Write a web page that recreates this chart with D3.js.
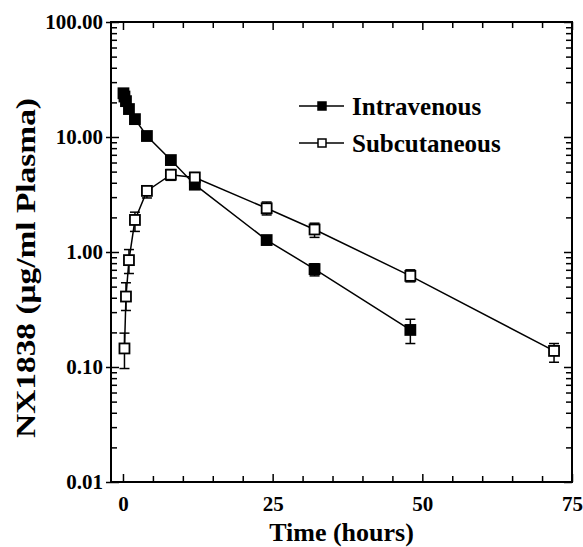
<!DOCTYPE html>
<meta charset="utf-8">
<style>
body { margin: 0; background: #fff; }
text { font-family: "Liberation Serif", "Times New Roman", serif; font-weight: bold; fill: #000; }
.axis path, .axis line { stroke: #000; stroke-width: 1.5px; }
.axis text { font-size: 21px; font-family: "Liberation Serif", "Times New Roman", serif; font-weight: bold; }
.frame { fill: none; stroke: #000; stroke-width: 2px; }
.series { fill: none; stroke: #000; stroke-width: 1.5px; }
.err { stroke: #000; stroke-width: 1.5px; }
</style>
<svg width="583" height="547"></svg>
<script src="https://d3js.org/d3.v7.min.js"></script>
<script>

// Intravenous (filled squares)
var ivTime = [0.083, 0.25, 0.5, 1, 2, 4, 8, 12, 24, 32, 48];
var ivConc = [24, 22.5, 20.5, 17.5, 14.3, 10.2, 6.3, 3.85, 1.27, 0.71, 0.21];
var ivLo   = [24, 22.5, 20.5, 17.5, 14.3, 10.2, 6.3, 3.85, 1.18, 0.62, 0.16];
var ivHi   = [24, 22.5, 20.5, 17.5, 14.3, 10.2, 6.3, 3.85, 1.36, 0.79, 0.26];

// Subcutaneous (open squares)
var scTime = [0.25, 0.5, 1, 2, 4, 8, 12, 24, 32, 48, 72];
var scConc = [0.145, 0.41, 0.85, 1.9, 3.4, 4.7, 4.45, 2.4, 1.57, 0.62, 0.138];
var scLo   = [0.097, 0.31, 0.65, 1.51, 2.95, 4.2, 4.0, 2.1, 1.34, 0.55, 0.11];
var scHi   = [0.197, 0.54, 1.05, 2.22, 3.7, 5.2, 4.9, 2.72, 1.78, 0.70, 0.16];

var xMajor = [0, 25, 50, 75];
var xMinor = [5, 10, 15, 20, 30, 35, 40, 45, 55, 60, 65, 70];
var yMajor = [0.01, 0.1, 1, 10, 100];
var seriesNames = ["Intravenous", "Subcutaneous"];

var svg = d3.select("svg"),
    pLeft = 111, pRight = 572, pTop = 22, pBottom = 482;

var x = d3.scaleLinear().domain([-2, 75]).range([pLeft, pRight]);
var y = d3.scaleLog().domain([0.01, 100]).range([pBottom, pTop]);

var yMinor = y.ticks().filter(function(d) {
  return yMajor.every(function(m) { return Math.abs(m - d) / m > 1e-6; });
});

function build(t, c, lo, hi) {
  return t.map(function(d, i) { return {t: d, c: c[i], lo: lo[i], hi: hi[i]}; });
}
var iv = build(ivTime, ivConc, ivLo, ivHi);
var sc = build(scTime, scConc, scLo, scHi);

function noDomain(g) { g.select(".domain").remove(); }

// axes
svg.append("g").attr("class", "axis")
    .attr("transform", "translate(0," + pBottom + ")")
    .call(d3.axisBottom(x).tickValues(xMajor).tickSize(-8).tickPadding(14)
      .tickFormat(d3.format("d")))
    .call(noDomain);
svg.append("g").attr("class", "axis")
    .attr("transform", "translate(0," + pBottom + ")")
    .call(d3.axisBottom(x).tickValues(xMinor).tickSize(-6).tickFormat(""))
    .call(noDomain);
svg.append("g").attr("class", "axis")
    .attr("transform", "translate(0," + pTop + ")")
    .call(d3.axisTop(x).tickValues(xMajor).tickSize(-8).tickFormat(""))
    .call(noDomain);
svg.append("g").attr("class", "axis")
    .attr("transform", "translate(0," + pTop + ")")
    .call(d3.axisTop(x).tickValues(xMinor).tickSize(-6).tickFormat(""))
    .call(noDomain);

svg.append("g").attr("class", "axis")
    .attr("transform", "translate(" + pLeft + ",0)")
    .call(d3.axisLeft(y).tickValues(yMajor).tickSize(5).tickPadding(3)
      .tickFormat(d3.format(".2f")))
    .call(noDomain);
svg.append("g").attr("class", "axis")
    .attr("transform", "translate(" + pLeft + ",0)")
    .call(d3.axisLeft(y).tickValues(yMajor).tickSize(-8).tickFormat(""))
    .call(noDomain);
svg.append("g").attr("class", "axis")
    .attr("transform", "translate(" + pLeft + ",0)")
    .call(d3.axisLeft(y).tickValues(yMinor).tickSize(-6).tickFormat(""))
    .call(noDomain);
svg.append("g").attr("class", "axis")
    .attr("transform", "translate(" + pRight + ",0)")
    .call(d3.axisRight(y).tickValues(yMajor).tickSize(-8).tickFormat(""))
    .call(noDomain);
svg.append("g").attr("class", "axis")
    .attr("transform", "translate(" + pRight + ",0)")
    .call(d3.axisRight(y).tickValues(yMinor).tickSize(-6).tickFormat(""))
    .call(noDomain);

svg.append("rect").attr("class", "frame")
    .attr("x", pLeft).attr("y", pTop)
    .attr("width", pRight - pLeft).attr("height", pBottom - pTop);

// titles
svg.append("text")
    .attr("x", (pLeft + pRight) / 2).attr("y", 541)
    .attr("text-anchor", "middle")
    .style("font-size", "26px")
    .text("Time (hours)");

svg.append("text")
    .attr("transform", "translate(35,268) rotate(-90)")
    .attr("text-anchor", "middle")
    .attr("textLength", 340)
    .attr("lengthAdjust", "spacingAndGlyphs")
    .style("font-size", "27px")
    .text("NX1838 (\u03bcg/ml Plasma)");

// series
var line = d3.line()
    .x(function(d) { return x(d.t); })
    .y(function(d) { return y(d.c); });

var ms = 10, cap = 5;

function draw(data, fill) {
  var g = svg.append("g");
  g.append("path").datum(data).attr("class", "series").attr("d", line);

  var e = g.selectAll(".eb").data(data.filter(function(d) { return d.hi > d.lo; }))
    .enter().append("g").attr("class", "eb");
  e.append("line").attr("class", "err")
      .attr("x1", function(d) { return x(d.t); }).attr("x2", function(d) { return x(d.t); })
      .attr("y1", function(d) { return y(d.lo); }).attr("y2", function(d) { return y(d.hi); });
  e.append("line").attr("class", "err")
      .attr("x1", function(d) { return x(d.t) - cap; }).attr("x2", function(d) { return x(d.t) + cap; })
      .attr("y1", function(d) { return y(d.lo); }).attr("y2", function(d) { return y(d.lo); });
  e.append("line").attr("class", "err")
      .attr("x1", function(d) { return x(d.t) - cap; }).attr("x2", function(d) { return x(d.t) + cap; })
      .attr("y1", function(d) { return y(d.hi); }).attr("y2", function(d) { return y(d.hi); });

  g.selectAll(".pt").data(data).enter().append("rect")
      .attr("x", function(d) { return x(d.t) - ms / 2; })
      .attr("y", function(d) { return y(d.c) - ms / 2; })
      .attr("width", ms).attr("height", ms)
      .attr("fill", fill).attr("stroke", "#000").attr("stroke-width", 1.8);
}
draw(iv, "#000");
draw(sc, "#fff");

// legend
var legend = svg.selectAll(".legend").data(seriesNames).enter().append("g")
    .attr("class", "legend")
    .attr("transform", function(d, i) { return "translate(299," + (106 + 37 * i) + ")"; });
legend.append("line").attr("x1", 0).attr("x2", 45).attr("y1", 0).attr("y2", 0)
    .attr("stroke", "#000").attr("stroke-width", 1.5);
legend.append("rect").attr("x", 19).attr("y", -4).attr("width", 8).attr("height", 8)
    .attr("fill", function(d, i) { return i == 0 ? "#000" : "#fff"; })
    .attr("stroke", "#000").attr("stroke-width", 1.5);
legend.append("text").attr("x", 53).attr("y", 9)
    .style("font-size", "25px")
    .text(function(d) { return d; });

</script>
